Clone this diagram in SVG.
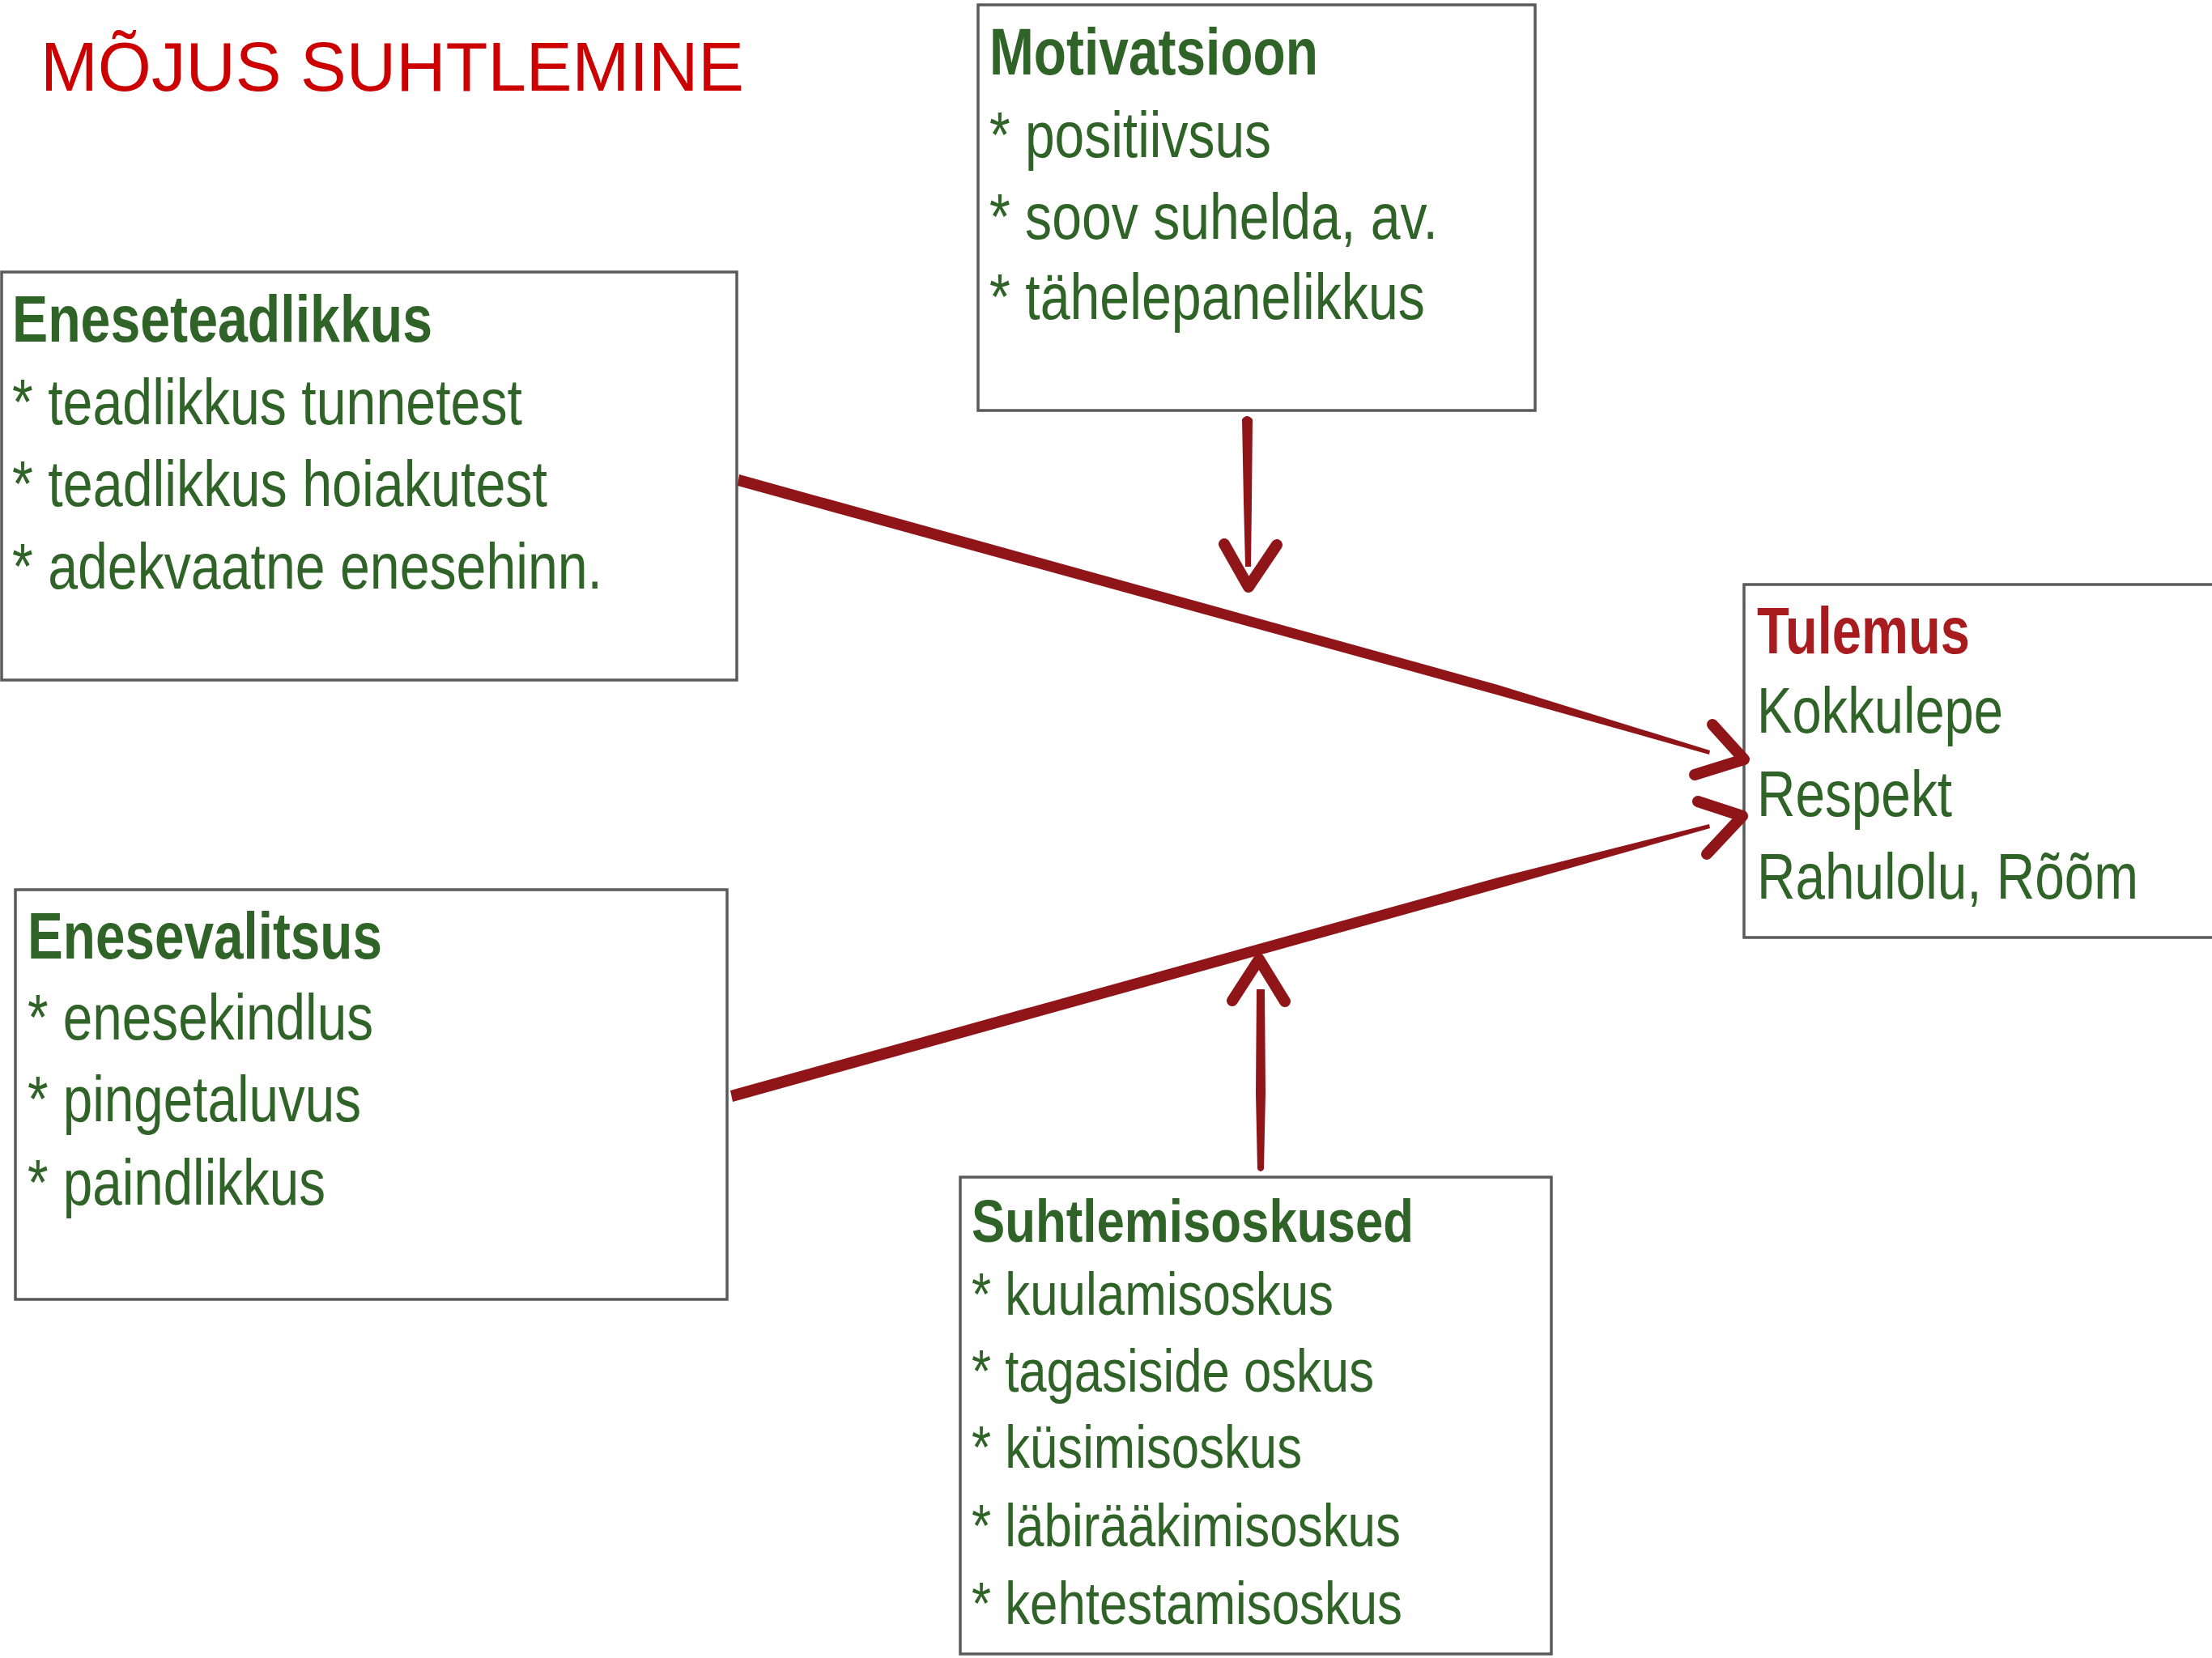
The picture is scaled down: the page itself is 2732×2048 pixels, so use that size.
<svg xmlns="http://www.w3.org/2000/svg" width="2732" height="2048" viewBox="0 0 2732 2048">
<style>
.box{fill:#fff;stroke:#5a5a5a;stroke-width:3.5}
.t{font-family:"Liberation Sans",Arial,sans-serif;fill:#2f6327}
.h{font-weight:bold;font-size:82px}
.i{font-size:80px}
.s .h{font-size:74px}
.s .i{font-size:75px}
.red{fill:#a81b1e}
.title{font-family:"Liberation Sans",Arial,sans-serif;font-size:85px;fill:#cc0000}
.arr{fill:none;stroke:#8f1519;stroke-width:14;stroke-linecap:round;stroke-linejoin:round}
.ln{fill:#8f1519}
</style>
<rect width="2732" height="2048" fill="#fff"/>
<text class="title" x="50" y="112">MÕJUS SUHTLEMINE</text>

<g id="eneseteadlikkus">
<rect class="box" x="2" y="336" width="908" height="504"/>
<text class="t h" x="15" y="422" textLength="519" lengthAdjust="spacingAndGlyphs">Eneseteadlikkus</text>
<text class="t i" x="15" y="524" textLength="630" lengthAdjust="spacingAndGlyphs">* teadlikkus tunnetest</text>
<text class="t i" x="15" y="625" textLength="661" lengthAdjust="spacingAndGlyphs">* teadlikkus hoiakutest</text>
<text class="t i" x="15" y="727" textLength="729" lengthAdjust="spacingAndGlyphs">* adekvaatne enesehinn.</text>
</g>

<g id="motivatsioon">
<rect class="box" x="1208" y="6" width="688" height="501"/>
<text class="t h" x="1222" y="92" textLength="406" lengthAdjust="spacingAndGlyphs">Motivatsioon</text>
<text class="t i" x="1222" y="194" textLength="348" lengthAdjust="spacingAndGlyphs">* positiivsus</text>
<text class="t i" x="1222" y="295" textLength="554" lengthAdjust="spacingAndGlyphs">* soov suhelda, av.</text>
<text class="t i" x="1222" y="394" textLength="538" lengthAdjust="spacingAndGlyphs">* tähelepanelikkus</text>
</g>

<g id="tulemus">
<path class="box" d="M2732,722 H2154 V1158 H2732"/>
<text class="t h red" x="2170" y="807" textLength="263" lengthAdjust="spacingAndGlyphs">Tulemus</text>
<text class="t i" x="2170" y="905" textLength="304" lengthAdjust="spacingAndGlyphs">Kokkulepe</text>
<text class="t i" x="2170" y="1008" textLength="241" lengthAdjust="spacingAndGlyphs">Respekt</text>
<text class="t i" x="2170" y="1110" textLength="471" lengthAdjust="spacingAndGlyphs">Rahulolu, Rõõm</text>
</g>

<g id="enesevalitsus">
<rect class="box" x="19" y="1099" width="879" height="506"/>
<text class="t h" x="34" y="1184" textLength="438" lengthAdjust="spacingAndGlyphs">Enesevalitsus</text>
<text class="t i" x="34" y="1284" textLength="427" lengthAdjust="spacingAndGlyphs">* enesekindlus</text>
<text class="t i" x="34" y="1385" textLength="412" lengthAdjust="spacingAndGlyphs">* pingetaluvus</text>
<text class="t i" x="34" y="1488" textLength="368" lengthAdjust="spacingAndGlyphs">* paindlikkus</text>
</g>

<g id="suhtlemisoskused" class="s">
<rect class="box" x="1186" y="1454" width="730" height="589"/>
<text class="t h" x="1200" y="1534" textLength="546" lengthAdjust="spacingAndGlyphs">Suhtlemisoskused</text>
<text class="t i" x="1200" y="1624" textLength="447" lengthAdjust="spacingAndGlyphs">* kuulamisoskus</text>
<text class="t i" x="1200" y="1719" textLength="497" lengthAdjust="spacingAndGlyphs">* tagasiside oskus</text>
<text class="t i" x="1200" y="1813" textLength="408" lengthAdjust="spacingAndGlyphs">* küsimisoskus</text>
<text class="t i" x="1200" y="1910" textLength="530" lengthAdjust="spacingAndGlyphs">* läbirääkimisoskus</text>
<text class="t i" x="1200" y="2006" textLength="532" lengthAdjust="spacingAndGlyphs">* kehtestamisoskus</text>
</g>

<g id="connectors">
<path class="ln" d="M913,586 L1850,846 L2112,927 L2111,932 L1848,858 L911,600 Z"/>
<path class="arr" d="M2115,895 L2154,938 L2093,957"/>
<path class="ln" d="M902,1347 L1850,1084 L2111,1018 L2112,1023 L1852,1097 L905,1361 Z"/>
<path class="arr" d="M2097,990 L2152,1008 L2108,1055"/>
<path class="ln" d="M1534,518 Q1540,510 1547,518 L1546,620 L1545,700 L1538,700 L1536,620 Z"/>
<path class="arr" d="M1512,672 L1542,725 L1577,673"/>
<path class="ln" d="M1552,1222 L1562,1222 L1563,1350 L1561,1444 Q1557,1450 1553,1444 L1551,1350 Z"/>
<path class="arr" d="M1522,1236 L1555,1185 L1587,1237"/>
</g>
</svg>
